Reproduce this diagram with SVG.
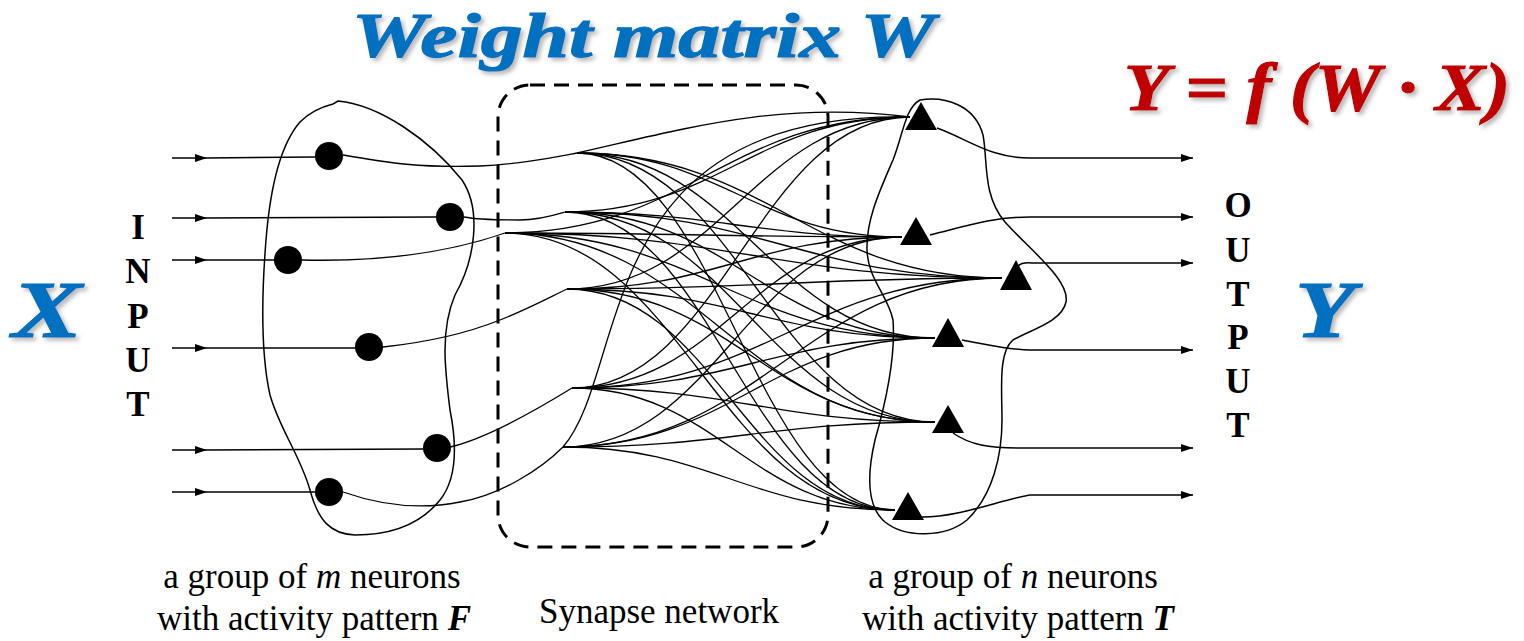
<svg xmlns="http://www.w3.org/2000/svg" width="1524" height="641" viewBox="0 0 1524 641">
<style>
.c{fill:none;stroke:#000;stroke-width:1.3}
.blob{fill:none;stroke:#000;stroke-width:1.5}
.io{fill:none;stroke:#000;stroke-width:1.5}
.neu{fill:#000}
.lbl{font-family:"Liberation Serif","Times New Roman",serif;font-size:35px;fill:#000}
.vl{font-family:"Liberation Serif","Times New Roman",serif;font-size:35px;font-weight:bold;fill:#000;text-anchor:middle}
.big{font-family:"Liberation Serif","Times New Roman",serif;font-weight:bold;font-style:italic;fill:#0070C0;stroke:#0070C0;stroke-width:1.2}
.red{font-family:"Liberation Serif","Times New Roman",serif;font-weight:bold;font-style:italic;fill:#C00000;stroke:#C00000;stroke-width:1.2}
</style>
<defs>
<marker id="ar" viewBox="0 0 12 8" refX="12" refY="4" markerWidth="12" markerHeight="8" markerUnits="userSpaceOnUse" orient="auto"><path d="M0,0 L12,4 L0,8 Z" fill="#000"/></marker>
<filter id="sh" x="-20%" y="-20%" width="150%" height="150%"><feDropShadow dx="3" dy="3" stdDeviation="2" flood-color="#888" flood-opacity="0.6"/></filter>
</defs>

<text x="352" y="57" class="big" font-size="64" textLength="583" lengthAdjust="spacingAndGlyphs" filter="url(#sh)">Weight matrix W</text>

<text x="1124" y="110" class="red" font-size="68" textLength="386" lengthAdjust="spacingAndGlyphs" filter="url(#sh)">Y = f (W · X)</text>

<text x="12" y="337" class="big" font-size="80" textLength="70" lengthAdjust="spacingAndGlyphs" filter="url(#sh)">X</text>
<text x="1295" y="337" class="big" font-size="80" textLength="60" lengthAdjust="spacingAndGlyphs" filter="url(#sh)">Y</text>

<g id="input-label">
<text x="138" y="239" class="vl">I</text>
<text x="138" y="283" class="vl">N</text>
<text x="138" y="328" class="vl">P</text>
<text x="138" y="372" class="vl">U</text>
<text x="138" y="416" class="vl">T</text>
</g>
<g id="output-label">
<text x="1238" y="217" class="vl">O</text>
<text x="1238" y="262" class="vl">U</text>
<text x="1238" y="306" class="vl">T</text>
<text x="1238" y="349" class="vl">P</text>
<text x="1238" y="393" class="vl">U</text>
<text x="1238" y="437" class="vl">T</text>
</g>

<g id="input-group">
<path class="blob" d="M338,101 C380,105 430,140 462,180 C482,210 475,260 455,295 C440,330 445,370 450,410 C458,450 456,480 440,500 C420,525 390,535 355,535 C330,534 318,520 310,490 C300,455 280,430 270,395 C260,350 262,290 266,240 C270,190 280,145 300,122 C312,110 325,106 333,104 Z"/>
</g>

<g id="synapse-box">
<rect x="498" y="85" width="330" height="462" rx="32" ry="32" fill="none" stroke="#000" stroke-width="3" stroke-dasharray="15,9"/>
</g>

<g id="output-group">
<path class="blob" d="M920,100 C945,96 975,105 983,135 C988,160 982,195 1005,222 C1030,250 1070,280 1066,302 C1062,322 1030,330 1013,340 C998,352 1002,390 1002,420 C1002,455 993,495 967,520 C945,538 905,538 885,522 C865,505 868,470 875,440 C885,405 896,360 893,320 C888,295 868,280 867,250 C866,220 880,190 893,160 C903,135 905,108 920,100 Z"/>
</g>

<g id="connectors">
<path class="io" d="M172,158 L207,158 L316,157" marker-mid="url(#ar)"/>
<path class="io" d="M172,218 L207,218 L437,217" marker-mid="url(#ar)"/>
<path class="io" d="M172,260 L207,260 L275,260" marker-mid="url(#ar)"/>
<path class="io" d="M172,348 L207,348 L356,348" marker-mid="url(#ar)"/>
<path class="io" d="M172,450 L207,450 L423,449" marker-mid="url(#ar)"/>
<path class="io" d="M172,492 L207,492 L316,492" marker-mid="url(#ar)"/>
<path class="c" d="M343,155 C390,163 420,168 480,166 C520,164 550,158 577,153"/>
<path class="c" d="M464,217 C480,220 500,220 520,220 C540,220 555,215 565,212"/>
<path class="c" d="M302,260 C380,262 450,252 505,233"/>
<path class="c" d="M383,347 C430,342 470,332 500,320 C530,308 550,297 567,289"/>
<path class="c" d="M450,447 C480,440 520,420 572,388"/>
<path class="c" d="M343,492 C380,505 420,510 460,502 C500,495 540,470 563,447"/>
<path class="c" d="M577,153 C680,130 780,100 910,117"/>
<path class="c" d="M577,153 C723,153 756,237 902,237"/>
<path class="c" d="M577,153 C768,153 811,278 1002,278"/>
<path class="c" d="M577,153 C738,153 774,338 935,338"/>
<path class="c" d="M577,153 C738,153 774,422 935,422"/>
<path class="c" d="M577,153 C720,153 752,510 895,510"/>
<path class="c" d="M565,212 C719,212 754,117 910,117"/>
<path class="c" d="M565,212 C717,212 750,237 902,237"/>
<path class="c" d="M565,212 C762,212 805,278 1002,278"/>
<path class="c" d="M565,212 C732,212 768,338 935,338"/>
<path class="c" d="M565,212 C732,212 768,422 935,422"/>
<path class="c" d="M565,212 C714,212 746,510 895,510"/>
<path class="c" d="M505,233 C686,233 727,117 910,117"/>
<path class="c" d="M505,233 C684,233 723,237 902,237"/>
<path class="c" d="M505,233 C729,233 778,278 1002,278"/>
<path class="c" d="M505,233 C699,233 741,338 935,338"/>
<path class="c" d="M505,233 C699,233 741,422 935,422"/>
<path class="c" d="M505,233 C681,233 719,510 895,510"/>
<path class="c" d="M567,289 C720,289 755,117 910,117"/>
<path class="c" d="M567,289 C718,289 751,237 902,237"/>
<path class="c" d="M567,289 C763,289 806,278 1002,278"/>
<path class="c" d="M567,289 C733,289 769,338 935,338"/>
<path class="c" d="M567,289 C733,289 769,422 935,422"/>
<path class="c" d="M567,289 C715,289 747,510 895,510"/>
<path class="c" d="M572,388 C723,388 757,117 910,117"/>
<path class="c" d="M572,388 C721,388 753,237 902,237"/>
<path class="c" d="M572,388 C766,388 808,278 1002,278"/>
<path class="c" d="M572,388 C735,388 772,338 935,338"/>
<path class="c" d="M572,388 C735,388 772,422 935,422"/>
<path class="c" d="M572,388 C717,388 750,510 895,510"/>
<path class="c" d="M563,447 C630,370 590,110 910,117"/>
<path class="c" d="M563,447 C716,447 749,237 902,237"/>
<path class="c" d="M563,447 C761,447 804,278 1002,278"/>
<path class="c" d="M563,447 C730,447 768,338 935,338"/>
<path class="c" d="M563,447 C730,447 768,422 935,422"/>
<path class="c" d="M563,447 C712,447 746,510 895,510"/>
<path class="io" d="M937,128 C970,140 990,158 1030,158 L1193,158" marker-end="url(#ar)"/>
<path class="io" d="M930,235 C960,228 990,217 1030,217 L1193,217" marker-end="url(#ar)"/>
<path class="io" d="M1018,266 Q1022,262 1032,263 L1193,263" marker-end="url(#ar)"/>
<path class="io" d="M962,340 C990,345 1010,350 1030,350 L1193,350" marker-end="url(#ar)"/>
<path class="io" d="M953,433 C970,445 990,448 1017,448 L1193,448" marker-end="url(#ar)"/>
<path class="io" d="M922,517 C960,517 1000,500 1030,495 L1193,495" marker-end="url(#ar)"/>
</g>

<g id="input-neurons">
<circle id="n1" class="neu" cx="329" cy="156" r="14"/>
<circle id="n2" class="neu" cx="450" cy="217" r="14"/>
<circle id="n3" class="neu" cx="288" cy="260" r="14"/>
<circle id="n4" class="neu" cx="369" cy="347" r="14"/>
<circle id="n5" class="neu" cx="437" cy="448" r="14"/>
<circle id="n6" class="neu" cx="329" cy="492" r="14"/>
</g>
<g id="output-neurons">
<polygon id="t1" class="neu" points="921,102 905,130 937,130"/>
<polygon id="t2" class="neu" points="916,217 900,245 932,245"/>
<polygon id="t3" class="neu" points="1016,260 1000,290 1032,290"/>
<polygon id="t4" class="neu" points="948,318 932,347 964,347"/>
<polygon id="t5" class="neu" points="948,405 932,433 964,433"/>
<polygon id="t6" class="neu" points="908,492 892,520 924,520"/>
</g>

<g id="captions">
<text x="312" y="588" class="lbl" text-anchor="middle">a group of <tspan font-style="italic">m</tspan> neurons</text>
<text x="314" y="630" class="lbl" text-anchor="middle">with activity pattern <tspan font-weight="bold" font-style="italic">F</tspan></text>
<text x="659" y="623" class="lbl" text-anchor="middle">Synapse network</text>
<text x="1013" y="588" class="lbl" text-anchor="middle">a group of <tspan font-style="italic">n</tspan> neurons</text>
<text x="1018" y="630" class="lbl" text-anchor="middle">with activity pattern <tspan font-weight="bold" font-style="italic">T</tspan></text>
</g>
</svg>
